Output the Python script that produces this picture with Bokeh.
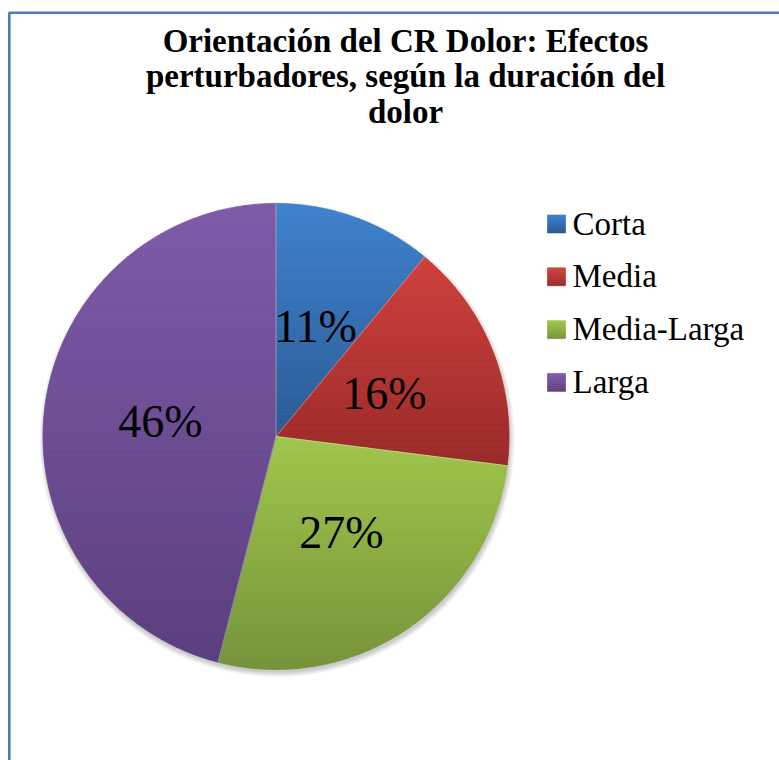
import numpy as np
from bokeh.plotting import figure
from bokeh.models import Range1d
from bokeh.core.properties import value
from bokeh.embed import file_html
from bokeh.resources import INLINE

# ---- data ----
categories = ["Corta", "Media", "Media-Larga", "Larga"]
values = [11, 16, 27, 46]
labels = ["11%", "16%", "27%", "46%"]
top_colors = ["#3f82ce", "#d0403d", "#a0c74c", "#7e5ba9"]
bottom_colors = ["#2b5b95", "#992a28", "#76933a", "#5b3f7e"]
title_lines = ["Orientación del CR Dolor: Efectos",
               "perturbadores, según la duración del",
               "dolor"]

# ---- layout (page pixel coordinates, y downwards) ----
W, H = 779, 760
CX, CY, R = 275.5, 436.0, 233.0
FONT = "Liberation Serif"


def hex2rgb(h):
    h = h.lstrip("#")
    return np.array([int(h[i:i + 2], 16) for i in (0, 2, 4)], dtype=float)


def rgb2hex(c):
    return "#%02x%02x%02x" % tuple(int(round(v)) for v in c)


def clip(px, py, ylim, keep_below):
    out_x, out_y = [], []
    n = len(px)
    def inside(y):
        return y >= ylim if keep_below else y <= ylim
    for i in range(n):
        x1, y1 = px[i], py[i]
        x2, y2 = px[(i + 1) % n], py[(i + 1) % n]
        in1, in2 = inside(y1), inside(y2)
        if in1:
            out_x.append(x1); out_y.append(y1)
        if in1 != in2:
            t = (ylim - y1) / (y2 - y1)
            out_x.append(x1 + t * (x2 - x1)); out_y.append(ylim)
    return out_x, out_y


def gradient_bands(px, py, ctop, cbot, n=50):
    y0, y1 = min(py), max(py)
    a, b = hex2rgb(ctop), hex2rgb(cbot)
    xs, ys, cols = [], [], []
    edges = np.linspace(y0, y1, n + 1)
    for k in range(n):
        bx, by = clip(px, py, edges[k], True)
        if len(bx) < 3:
            continue
        bx, by = clip(bx, by, edges[k + 1], False)
        if len(bx) < 3:
            continue
        t = (k + 0.5) / n
        xs.append(bx); ys.append(by); cols.append(rgb2hex(a + (b - a) * t))
    return xs, ys, cols


p = figure(width=W, height=H, output_backend="svg", toolbar_location=None,
           x_range=Range1d(0, W), y_range=Range1d(H, 0),
           x_axis_location=None, y_axis_location=None, min_border=0,
           outline_line_color=None, background_fill_color="white",
           border_fill_color="white")
p.xgrid.visible = False
p.ygrid.visible = False

# chart border (left and top visible)
p.line(x=[8.8, 8.8, W + 5], y=[H + 5, 12.2, 12.2], line_color="#4a7ebb", line_width=2.6)

# soft shadow
for k in range(6):
    p.circle(x=[CX + 1.0], y=[CY + 3.0], radius=R + k * 0.9, fill_color="black",
             fill_alpha=0.035, line_color=None)

# pie slices
total = float(sum(values))
start = 0.0
all_x, all_y, all_c = [], [], []
mids = []
for i, v in enumerate(values):
    frac = v / total
    a0, a1 = start * 2 * np.pi, (start + frac) * 2 * np.pi
    th = np.linspace(a0, a1, max(8, int(frac * 400)))
    px = [CX] + list(CX + R * np.sin(th))
    py = [CY] + list(CY - R * np.cos(th))
    xs, ys, cols = gradient_bands(px, py, top_colors[i], bottom_colors[i], 60)
    all_x += xs; all_y += ys; all_c += cols
    mids.append((a0 + a1) / 2)
    start += frac

p.patches(xs=all_x, ys=all_y, fill_color=all_c, line_color=all_c, line_width=0.8)

# separators
for i in range(len(values)):
    a = sum(values[:i]) / total * 2 * np.pi
    p.line(x=[CX, CX + R * np.sin(a)], y=[CY, CY - R * np.cos(a)],
           line_color="white", line_alpha=0.35, line_width=1)

# data labels
lx = [CX + 0.5 * R * np.sin(m) for m in mids]
ly = [CY - 0.5 * R * np.cos(m) for m in mids]
p.text(x=lx, y=ly, text=labels, text_font=value(FONT), text_font_size="46px",
       text_align="center", text_baseline="alphabetic", text_color="black")

# legend
sq = 18
leg_x, leg_y0, leg_dy = 556.0, 223.5, 52.8
sx, sy, sc = [], [], []
for i in range(len(categories)):
    yc = leg_y0 + i * leg_dy
    rx = [leg_x - sq / 2, leg_x + sq / 2, leg_x + sq / 2, leg_x - sq / 2]
    ry = [yc - sq / 2, yc - sq / 2, yc + sq / 2, yc + sq / 2]
    xs, ys, cols = gradient_bands(rx, ry, top_colors[i], bottom_colors[i], 9)
    sx += xs; sy += ys; sc += cols
p.patches(xs=sx, ys=sy, fill_color=sc, line_color=sc, line_width=0.6)
p.text(x=[572] * len(categories), y=[leg_y0 + i * leg_dy - 0.5 for i in range(len(categories))],
       text=categories, text_font=value(FONT), text_font_size="33px",
       text_align="left", text_baseline="alphabetic", text_color="black")

# title
p.text(x=[405] * 3, y=[40, 75.5, 111.5], text=title_lines, text_font=value(FONT),
       text_font_size="33px", text_font_style="bold", text_align="center",
       text_baseline="alphabetic", text_color="black")

open("out.html", "w").write(file_html(p, INLINE))
